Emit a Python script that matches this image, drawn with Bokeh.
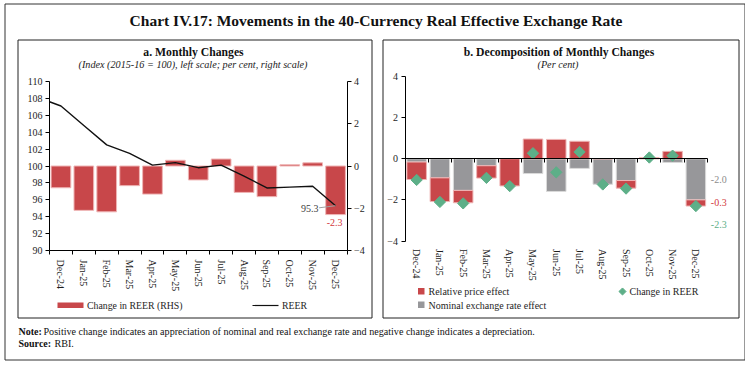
import numpy as np
from bokeh.plotting import figure
from bokeh.models import Range1d, LinearAxis, FixedTicker
from bokeh.core.properties import value
from bokeh.embed import file_html
from bokeh.resources import INLINE

# ---------------- data ----------------
months = ["Dec-24", "Jan-25", "Feb-25", "Mar-25", "Apr-25", "May-25", "Jun-25",
          "Jul-25", "Aug-25", "Sep-25", "Oct-25", "Nov-25", "Dec-25"]
change_in_reer = [-1.03, -2.10, -2.17, -0.93, -1.33, 0.27, -0.66, 0.33, -1.25, -1.45, 0.06, 0.15, -2.3]
reer_nov24 = 108.1
reer_index = [107.1, 104.8, 102.5, 101.5, 100.1, 100.4, 99.8, 100.1, 98.8, 97.4, 97.5, 97.6, 95.3]
relative_price_effect = [-0.85, -1.15, -0.60, -0.60, -1.32, 0.96, 0.94, 0.85, 0.0, -0.37, 0.06, 0.36, -0.3]
nominal_fx_effect = [-0.16, -0.93, -1.54, -0.34, 0.0, -0.72, -1.59, -0.47, -1.24, -1.06, 0.0, -0.18, -2.0]
left_ticks = [90, 92, 94, 96, 98, 100, 102, 104, 106, 108, 110]
pct_ticks = [-4, -2, 0, 2, 4]

RED = "#C8474A"
GRAY = "#97979A"
GREEN = "#5DAF88"
TXT = "#1E1E1E"
FONT = "Liberation Serif"

W, H = 745, 361
OX, OY = 0, 0

p = figure(width=W, height=H, x_range=Range1d(OX, OX + W), y_range=Range1d(OY + H, OY),
           output_backend="svg", toolbar_location=None, x_axis_type=None, y_axis_type=None,
           min_border=0, outline_line_color=None, title=None, background_fill_color="white",
           border_fill_color="white")


def xr(v_a, px_a, v_b, px_b):
    s = (v_b - v_a) / (px_b - px_a)
    return Range1d(start=v_a + (OX - px_a) * s, end=v_a + (OX + W - px_a) * s)


def yr(v_a, px_a, v_b, px_b):
    s = (v_b - v_a) / (px_b - px_a)
    return Range1d(start=v_a + (OY + H - px_a) * s, end=v_a + (OY - px_a) * s)


n = len(months)
idx = np.arange(n)
p.extra_x_ranges = {"ax": xr(-0.5, 49.0, n - 0.5, 346.5),
                    "bx": xr(-0.5, 404.5, n - 0.5, 707.0)}
p.extra_y_ranges = {"aL": yr(90, 250.0, 110, 81.0),
                    "aR": yr(-4, 250.0, 4, 81.0),
                    "by": yr(-4, 240.5, 4, 76.0)}


def style(ax):
    ax.major_label_text_font = FONT
    ax.major_label_text_font_size = "10px"
    ax.major_label_text_color = TXT
    ax.axis_line_color = "black"
    ax.axis_line_width = 1
    ax.major_tick_line_color = "black"
    ax.major_tick_out = 4
    ax.major_tick_in = 0
    ax.minor_tick_line_color = None
    ax.major_label_standoff = 3
    return ax


boundaries = [i - 0.5 for i in range(n + 1)]
overrides = {int(i): m for i, m in enumerate(months)}

# ---------------- frames / text ----------------
p.quad(left=[4.5], right=[744.5], top=[3.5], bottom=[359.5],
       fill_color=None, line_color="#333333", line_width=1)
p.quad(left=[17.5, 382.5], right=[371.5, 738.5], top=[39.5, 39.5], bottom=[317.5, 317.5],
       fill_color=None, line_color="#222222", line_width=1)

p.text(x=[375.5], y=[20], text=["Chart IV.17: Movements in the 40-Currency Real Effective Exchange Rate"],
       text_font=value(FONT), text_font_size="15.5px", text_font_style="bold", text_color="#111111",
       text_align="center", text_baseline="middle")
p.text(x=[193, 558.5], y=[51.5, 51.5], text=["a. Monthly Changes", "b. Decomposition of Monthly Changes"],
       text_font=value(FONT), text_font_size="11.7px", text_font_style="bold", text_color="#111111",
       text_align="center", text_baseline="middle")
p.text(x=[192.5, 557.5], y=[63.5, 63.5],
       text=["(Index (2015-16 = 100), left scale; per cent, right scale)", "(Per cent)"],
       text_font=value(FONT), text_font_size="10.2px", text_font_style="italic", text_color="#222222",
       text_align="center", text_baseline="middle")
p.text(x=[18, 18], y=[331, 342.5], text=["Note:", "Source:"], text_font=value(FONT),
       text_font_size="10px", text_font_style="bold", text_color="#111111", text_baseline="middle")
p.text(x=[43, 54], y=[331, 342.5],
       text=["Positive change indicates an appreciation of nominal and real exchange rate and negative change indicates a depreciation.",
             "RBI."], text_font=value(FONT), text_font_size="10.1px", text_color="#111111",
       text_baseline="middle")

# ---------------- chart a ----------------
p.vbar(x=idx, top=change_in_reer, bottom=0, width=0.86, x_range_name="ax", y_range_name="aR",
       fill_color=RED, line_color="#EFB5B5", line_width=1)
edge = (reer_nov24 + reer_index[0]) / 2.0  # clip of Nov-24 -> Dec-24 segment at the axis
p.line(x=[-0.5] + list(idx), y=[edge] + reer_index, x_range_name="ax", y_range_name="aL",
       line_color="#111111", line_width=1.4)
p.segment(x0=[n - 1 - 0.72], y0=[reer_index[-1] - 0.25], x1=[n - 1], y1=[reer_index[-1]],
          x_range_name="ax", y_range_name="aL", line_color="#A0A0A0", line_width=1)
p.text(x=[n - 1], y=[reer_index[-1]], text=[f"{reer_index[-1]:.1f}"], x_range_name="ax", y_range_name="aL",
       x_offset=-17, y_offset=3, text_align="right", text_baseline="middle", text_font=value(FONT),
       text_font_size="10px", text_color="#404040")
p.text(x=[n - 1], y=[change_in_reer[-1]], text=[f"{change_in_reer[-1]:.1f}"], x_range_name="ax",
       y_range_name="aR", x_offset=-1, y_offset=8, text_align="center", text_baseline="middle",
       text_font=value(FONT), text_font_size="10px", text_color="#D2393C")

axL = style(LinearAxis(x_range_name="ax", y_range_name="aL", fixed_location=-0.5, bounds=(90, 110),
                       ticker=FixedTicker(ticks=left_ticks)))
p.add_layout(axL, "left")
axR = style(LinearAxis(x_range_name="ax", y_range_name="aR", fixed_location=n - 0.5, bounds=(-4, 4),
                       ticker=FixedTicker(ticks=pct_ticks)))
p.add_layout(axR, "right")
axB = style(LinearAxis(x_range_name="ax", y_range_name="aL", fixed_location=90, bounds=(-0.5, n - 0.5),
                       ticker=FixedTicker(ticks=list(range(n)), minor_ticks=boundaries)))
axB.major_tick_line_color = None
axB.minor_tick_line_color = "black"
axB.minor_tick_out = 4
axB.minor_tick_in = 0
axB.major_label_orientation = "vertical"
axB.major_label_overrides = overrides
axB.major_label_standoff = 5
p.add_layout(axB, "below")

# legend a
p.quad(left=[57], right=[83], top=[302], bottom=[307.5], fill_color=RED, line_color=None)
p.line(x=[252, 278], y=[305, 305], line_color="#111111", line_width=1.2)
p.text(x=[86.5, 281.5], y=[305, 305], text=["Change in REER (RHS)", "REER"], text_font=value(FONT),
       text_font_size="9.8px", text_color=TXT, text_baseline="middle")

# ---------------- chart b ----------------
rp = np.array(relative_price_effect)
nf = np.array(nominal_fx_effect)
same = np.sign(rp) == np.sign(nf)
r_bottom = np.where(same, nf, 0.0)
r_top = r_bottom + rp
p.vbar(x=idx, top=nf, bottom=0, width=0.84, x_range_name="bx", y_range_name="by",
       fill_color=GRAY, line_color="#DADADA", line_width=1)
p.vbar(x=idx, top=r_top, bottom=r_bottom, width=0.84, x_range_name="bx", y_range_name="by",
       fill_color=RED, line_color="#EFB5B5", line_width=1)
p.scatter(x=idx, y=change_in_reer, x_range_name="bx", y_range_name="by", marker="square",
          angle=np.pi / 4, size=8, fill_color=GREEN, line_color=GREEN)

p.text(x=[n - 1] * 3, y=[nf[-1], r_top[-1], change_in_reer[-1]],
       text=[f"{nf[-1]:.1f}", f"{rp[-1]:.1f}", f"{change_in_reer[-1]:.1f}"],
       x_range_name="bx", y_range_name="by", x_offset=15, y_offset=[-20, -3.5, 18.5],
       text_color=["#8C8C8C", "#D2393C", GREEN], text_font=value(FONT), text_font_size="10px",
       text_baseline="middle")

bL = style(LinearAxis(x_range_name="bx", y_range_name="by", fixed_location=-0.5, bounds=(-4, 4),
                      ticker=FixedTicker(ticks=pct_ticks)))
p.add_layout(bL, "left")
bZ = style(LinearAxis(x_range_name="bx", y_range_name="by", fixed_location=0, bounds=(-0.5, n - 0.5),
                      ticker=FixedTicker(ticks=list(range(n)), minor_ticks=boundaries)))
bZ.major_tick_line_color = None
bZ.minor_tick_line_color = "black"
bZ.minor_tick_out = 4
bZ.minor_tick_in = 0
bZ.major_label_text_color = None
bZ.axis_line_width = 1.2
p.add_layout(bZ, "below")
bB = style(LinearAxis(x_range_name="bx", y_range_name="by", fixed_location=-4, bounds=(-0.5, n - 0.5),
                      ticker=FixedTicker(ticks=list(range(n)))))
bB.axis_line_color = None
bB.major_tick_line_color = None
bB.major_label_orientation = "vertical"
bB.major_label_overrides = overrides
bB.major_label_standoff = 4
p.add_layout(bB, "below")

# legend b
p.quad(left=[417.5, 417.5], right=[424, 424], top=[287.5, 301], bottom=[294, 307.5],
       fill_color=[RED, GRAY], line_color=None)
p.scatter(x=[622], y=[291], marker="square", angle=np.pi / 4, size=5, fill_color=GREEN, line_color=GREEN)
p.text(x=[428, 428, 629], y=[291, 304.5, 291],
       text=["Relative price effect", "Nominal exchange rate effect", "Change in REER"],
       text_font=value(FONT), text_font_size="10px", text_color=TXT, text_baseline="middle")

open("out.html", "w").write(file_html(p, INLINE))
